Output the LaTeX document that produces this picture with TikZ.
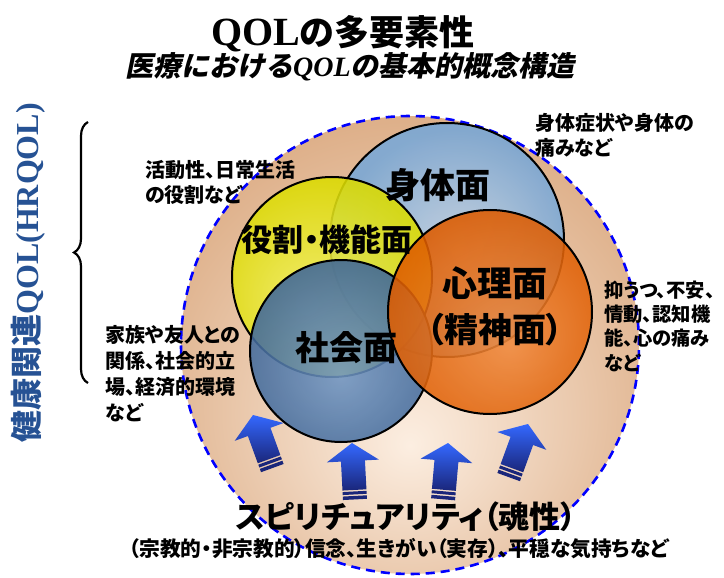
\documentclass[tikz,border=0pt]{standalone}
\usepackage{fontspec}
\setmainfont{Liberation Serif}
\newfontfamily\jp{Noto Sans CJK JP}
\newfontfamily\jpp{Noto Sans CJK JP}[RawFeature=+palt]
\newfontfamily\jpsl{Noto Sans CJK JP}[FakeSlant=0.2]
\newfontfamily\ser{Liberation Serif}
\usetikzlibrary{decorations.pathreplacing}

\definecolor{bgin}{RGB}{252,238,225}
\definecolor{bgout}{RGB}{222,176,138}
\definecolor{bodyin}{RGB}{195,212,230}
\definecolor{bodyout}{RGB}{122,168,214}
\definecolor{yelin}{RGB}{244,242,100}
\definecolor{yelout}{RGB}{220,220,0}
\definecolor{socin}{RGB}{112,150,195}
\definecolor{socout}{RGB}{62,102,152}
\definecolor{orin}{RGB}{240,138,62}
\definecolor{orout}{RGB}{222,92,0}
\definecolor{arrtop}{RGB}{52,104,255}
\definecolor{arrbot}{RGB}{26,38,122}
\definecolor{hrblue}{RGB}{38,82,148}

\pgfdeclareradialshading{bgshade}{\pgfpoint{0bp}{-11bp}}{color(0bp)=(bgin); color(30bp)=(bgout); color(60bp)=(bgout)}
\pgfdeclareradialshading{bodyshade}{\pgfpoint{3bp}{-3bp}}{color(0bp)=(bodyin); color(25bp)=(bodyout); color(50bp)=(bodyout)}
\pgfdeclareradialshading{yelshade}{\pgfpoint{-6bp}{-8bp}}{color(0bp)=(yelin); color(28bp)=(yelout); color(50bp)=(yelout)}
\pgfdeclareradialshading{socshade}{\pgfpoint{0bp}{-7bp}}{color(0bp)=(socin); color(28bp)=(socout); color(50bp)=(socout)}
\pgfdeclareradialshading{orshade}{\pgfpoint{5bp}{-8bp}}{color(0bp)=(orin); color(28bp)=(orout); color(50bp)=(orout)}

\tikzset{
  ring/.style={draw=black, line width=2pt},
  sidetext/.style={font=\jpp\bfseries\fontsize{20}{24}\selectfont, anchor=west, inner sep=0pt},
  psytext/.style={font=\jpp\bfseries\fontsize{19.3}{24}\selectfont, anchor=west, inner sep=0pt},
  biglabel/.style={font=\jpp\bfseries\fontsize{35}{40}\selectfont, inner sep=0pt},
  uparrow/.pic={
    \shade[top color=arrtop, bottom color=arrbot] (0,0) -- (26,18) -- (12,18) -- (12,47) -- (-12,47) -- (-12,18) -- (-26,18) -- cycle;
    \fill[arrbot] (-12,48.5) rectangle (12,51.5);
    \fill[arrbot] (-12,53) rectangle (12,56.5);
  }
}

\begin{document}
\begin{tikzpicture}[x=1pt,y=-1pt]
\useasboundingbox (0,0) rectangle (724,578);
\fill[white] (0,0) rectangle (724,578);

% outer spirituality circle
\shade[shading=bgshade] (410,345) circle (229pt);
\draw[blue, line width=2.6pt, dash pattern=on 9pt off 6pt] (410,345) circle (229pt);

% four domain circles
\shade[shading=bodyshade, fill opacity=0.9] (447,240) circle (117pt);
\draw[ring] (447,240) circle (117pt);
\shade[shading=yelshade, fill opacity=0.88] (332,277) circle (100pt);
\draw[ring] (332,277) circle (100pt);
\shade[shading=socshade, fill opacity=0.88] (341,351) circle (91pt);
\draw[ring] (341,351) circle (91pt);
\shade[shading=orshade, fill opacity=0.88] (490,312) circle (102pt);
\draw[ring] (490,312) circle (102pt);

% arrows
\pic[rotate=20] at (253,415) {uparrow};
\pic[rotate=3] at (352,443) {uparrow};
\pic[rotate=-5] at (448,443) {uparrow};
\pic[rotate=-20] at (528,424) {uparrow};

% brace
\coordinate (bracebot) at (88,383);
\coordinate (bracetop) at (88,122);
\draw[decorate, decoration={brace, amplitude=14pt, aspect=0.5}, line width=2.2pt] (bracebot) -- (bracetop);

% titles
\node[inner sep=0pt] (title) at (343,34) {\bfseries{\fontsize{40}{44}\selectfont\ser QOL}{\fontsize{35}{40}\selectfont\jp の多要素性}};
\node[inner sep=0pt] (subtitle) at (350,67) {\fontsize{28}{32}\selectfont\bfseries\jpsl 医療における{\itshape\ser QOL}の基本的概念構造};
\node[rotate=90, text=hrblue] (hrqol) at (28,273) {\fontsize{32}{36}\selectfont\bfseries\jp 健康関連\ser QOL(HRQOL)};

% side texts
\node[sidetext] (act1) at (145,170) {活動性、日常生活};
\node[sidetext] (act2) at (145,195) {の役割など};
\node[sidetext] (phys1) at (535,123) {身体症状や身体の};
\node[sidetext] (phys2) at (535,148) {痛みなど};
\node[psytext] (psy1) at (604,290) {抑うつ、不安、};
\node[psytext] (psy2) at (604,314) {情動、認知機};
\node[psytext] (psy3) at (604,338) {能、心の痛み};
\node[psytext] (psy4) at (604,363) {など};
\node[sidetext] (soc1) at (105,335) {家族や友人との};
\node[sidetext] (soc2) at (105,361) {関係、社会的立};
\node[sidetext] (soc3) at (105,387) {場、経済的環境};
\node[sidetext] (soc4) at (105,413) {など};

% circle labels
\node[biglabel] (lbody) at (438,185) {身体面};
\node[biglabel, font=\jpp\bfseries\fontsize{31}{36}\selectfont] (lrole) at (327,240) {役割・機能面};
\node[biglabel, font=\jpp\bfseries\fontsize{34}{40}\selectfont] (lsoc) at (346,348) {社会面};
\node[biglabel] (lpsy1) at (495,283) {心理面};
\node[biglabel, font=\jpp\bfseries\fontsize{34}{40}\selectfont] (lpsy2) at (495,330) {（精神面）};
\node[biglabel, font=\jpp\bfseries\fontsize{31}{36}\selectfont] (lspir) at (406,517) {スピリチュアリティ（魂性）};
\node[biglabel, font=\jpp\bfseries\fontsize{20.7}{24}\selectfont] (lspir2) at (399,549) {（宗教的・非宗教的）信念、生きがい（実存）、平穏な気持ちなど};
\end{tikzpicture}
\end{document}
